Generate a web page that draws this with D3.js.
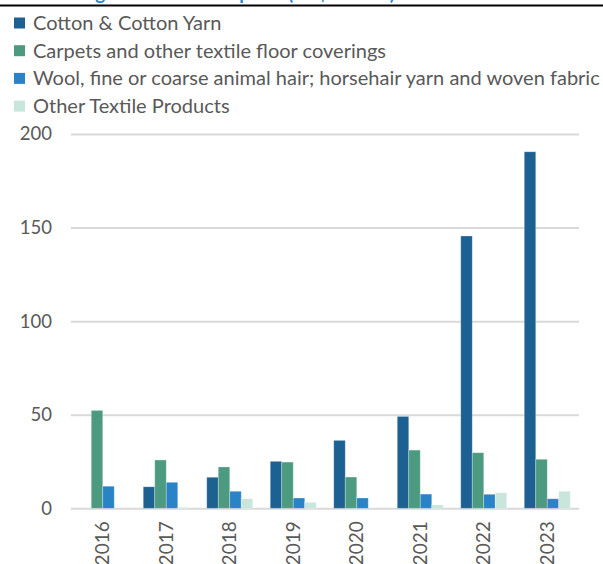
<!DOCTYPE html>
<html>
<head>
<meta charset="utf-8">
<script src="https://cdn.jsdelivr.net/npm/d3@7"></script>
<style>
  html, body { margin: 0; padding: 0; background: #fff; }
  svg { display: block; }
  text { font-family: Lato, "Open Sans", sans-serif; }
</style>
</head>
<body>
<svg id="chart" width="603" height="564"></svg>
<script>
// Textile exports by product group, 2016–2023 (US$ million)
const years = ["2016", "2017", "2018", "2019", "2020", "2021", "2022", "2023"];
const seriesNames = [
  "Cotton & Cotton Yarn",
  "Carpets and other textile floor coverings",
  "Wool, fine or coarse animal hair; horsehair yarn and woven fabric",
  "Other Textile Products"
];
const cotton  = [0, 11.5, 16.6, 25.1, 36.3, 49.1, 145.5, 190.5];
const carpets = [52.3, 25.8, 22.1, 24.7, 16.7, 31.1, 29.7, 26.2];
const wool    = [11.8, 13.9, 9.1, 5.5, 5.5, 7.6, 7.5, 5.1];
const other   = [0, 0.5, 5.1, 3.2, 0, 1.8, 8.3, 9.1];
const yTicks  = [0, 50, 100, 150, 200];
const colors  = ["#1d6092", "#4c9a80", "#2a83c6", "#c8e6dc"];
const titleText = "Figure 5: Textile Exports (US$ million)";

const allSeries = [cotton, carpets, wool, other];

const svg = d3.select("#chart");
const margin = { left: 71, right: 24, top: 134, bottom: 55 };
const W = 603, H = 564;
const textColor = "#595959";

const x0 = d3.scaleBand().domain(years).range([margin.left, W - margin.right]).paddingInner(0).paddingOuter(0);
const x1 = d3.scaleBand().domain(d3.range(4)).range([x0.bandwidth() * 0.1378, x0.bandwidth() * (1 - 0.1378)]);
const y = d3.scaleLinear().domain([0, 200]).range([H - margin.bottom - 0.7, margin.top]);

// Title (sits mostly above the visible area) and rule
const title = svg.append("text")
  .attr("y", -0.3)
  .attr("font-size", 19)
  .attr("font-weight", "bold")
  .attr("fill", "#2a86cc")
  .text(titleText);
const openIdx = titleText.indexOf("(");
const offset = title.node().getSubStringLength(0, openIdx);
title.attr("x", 288 - offset);

svg.append("line")
  .attr("x1", 0).attr("x2", W)
  .attr("y1", 5.5).attr("y2", 5.5)
  .attr("stroke", "#000").attr("stroke-width", 2.2);

// Legend; font size chosen so the longest entry spans the available width
const legend = svg.append("g");
const items = seriesNames.map((name, i) => {
  const g = legend.append("g").attr("transform", `translate(14, ${23 + i * 27.7})`);
  g.append("rect").attr("x", 0).attr("y", -5.5).attr("width", 11).attr("height", 11).attr("fill", colors[i]);
  return g.append("text").attr("x", 19).attr("y", 0).attr("dy", "0.35em")
    .attr("font-size", 18).attr("fill", textColor).text(name);
});
const longest = items[2].node().getComputedTextLength();
const legendSize = Math.min(21, 18 * 567 / longest);
items.forEach(t => t.attr("font-size", legendSize));

// Gridlines and y axis
const yAxis = d3.axisLeft(y).tickValues(yTicks).tickSize(-(W - margin.right - margin.left)).tickPadding(19);
const ya = svg.append("g").attr("transform", `translate(${margin.left},0)`).call(yAxis);
ya.select(".domain").remove();
ya.selectAll(".tick line").attr("stroke", "#d9d9d9").attr("stroke-width", 2);
ya.selectAll(".tick text").attr("font-size", 18.5).attr("fill", textColor)
  .attr("font-family", "Lato, 'Open Sans', sans-serif");

// Bars
const groups = svg.append("g").selectAll("g").data(years).join("g")
  .attr("transform", d => `translate(${x0(d)},0)`);
groups.selectAll("rect")
  .data((d, yi) => allSeries.map((s, si) => ({ si, v: s[yi] })))
  .join("rect")
  .filter(d => d.v > 0)
  .attr("x", d => x1(d.si))
  .attr("width", x1.bandwidth())
  .attr("y", d => y(d.v))
  .attr("height", d => y(0) - y(d.v))
  .attr("fill", d => colors[d.si])
  .attr("stroke", "rgba(255,255,255,0.35)")
  .attr("stroke-width", 0.8);

// X axis labels (rotated)
const xAxis = d3.axisBottom(x0).tickSize(0).tickPadding(0);
const xa = svg.append("g").attr("transform", `translate(0,${y(0)})`).call(xAxis);
xa.select(".domain").remove();
xa.selectAll(".tick text")
  .attr("font-size", 19).attr("fill", textColor)
  .attr("font-family", "Lato, 'Open Sans', sans-serif")
  .attr("transform", "rotate(-90)")
  .attr("text-anchor", "end")
  .attr("x", -13).attr("y", 0).attr("dy", "0.35em");
</script>
</body>
</html>
